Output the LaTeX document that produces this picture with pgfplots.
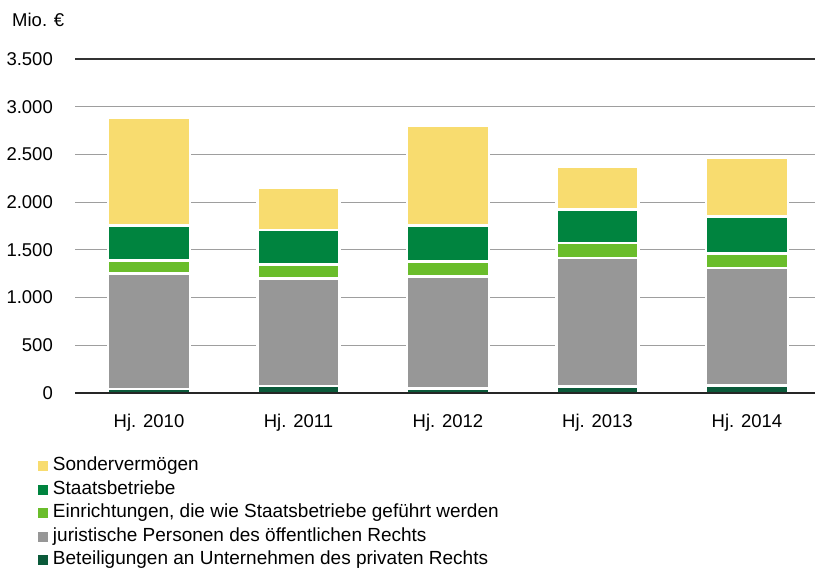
\documentclass[border=0pt]{standalone}
\usepackage{fontspec}
\setmainfont{Liberation Sans}
\usepackage{pgfplots}
\pgfplotsset{compat=1.18}
\definecolor{cY}{HTML}{F8DC6F}
\definecolor{cDG}{HTML}{00843F}
\definecolor{cLG}{HTML}{6ABD2B}
\definecolor{cGR}{HTML}{979797}
\definecolor{cDD}{HTML}{0B5A3A}
\begin{document}
\fontsize{18.5bp}{22bp}\selectfont
\begin{tikzpicture}
\useasboundingbox (0,0) rectangle (816bp,570bp);
\node[anchor=west, inner sep=0pt] at (12bp,550bp) {Mio. €};
\begin{axis}[
  name=ax,
  at={(75bp,177bp)}, anchor=south west,
  scale only axis, width=740bp, height=334bp,
  ybar stacked, bar width=82bp,
  xmin=-0.495, xmax=4.455, ymin=0, ymax=3500,
  xtick={0,1,2,3,4},
  xticklabels={Hj. 2010,Hj. 2011,Hj. 2012,Hj. 2013,Hj. 2014},
  ytick={0,500,...,3500},
  ymajorgrids, major grid style={draw=black!38, line width=1.2bp},
  axis line style={draw=none}, tick style={draw=none},
  /pgf/number format/.cd, 1000 sep={.}, assume math mode=true, /pgfplots/.cd,
  yticklabel style={inner sep=0pt, xshift=-22bp, anchor=east},
  xticklabel style={inner sep=0pt, yshift=-21bp, anchor=north},
  every axis plot/.append style={draw=white, line width=2.6bp},
  legend style={at={(-0.05,-0.193)}, anchor=north west, draw=none, fill=none,
    inner sep=0pt, row sep=6.5bp, cells={anchor=west},
    nodes={inner sep=0pt, text height=13bp, text depth=4bp, font=\fontsize{19bp}{22bp}\selectfont}},
  legend image code/.code={\fill[#1, draw=none] (0bp,-5bp) rectangle (10bp,5bp); \path (13.5bp,0bp);},
  reverse legend,
]
\addplot[fill=cDD] coordinates {(0,40) (1,75) (2,50) (3,68) (4,79)};
\addlegendentry{Beteiligungen an Unternehmen des privaten Rechts}
\addplot[fill=cGR] coordinates {(0,1215) (1,1123) (2,1168) (3,1347) (4,1231)};
\addlegendentry{juristische Personen des öffentlichen Rechts}
\addplot[fill=cLG] coordinates {(0,135) (1,149) (2,157) (3,157) (4,154)};
\addlegendentry{Einrichtungen, die wie Staatsbetriebe geführt werden}
\addplot[fill=cDG] coordinates {(0,367) (1,359) (2,382) (3,351) (4,388)};
\addlegendentry{Staatsbetriebe}
\addplot[fill=cY] coordinates {(0,1126) (1,443) (2,1048) (3,452) (4,614)};
\addlegendentry{Sondervermögen}
\end{axis}
\draw[line width=1.4bp, black!80] (ax.north west) -- (ax.north east);
\draw[line width=2.2bp, black!85] (ax.south west) -- (ax.south east);
\end{tikzpicture}
\end{document}
